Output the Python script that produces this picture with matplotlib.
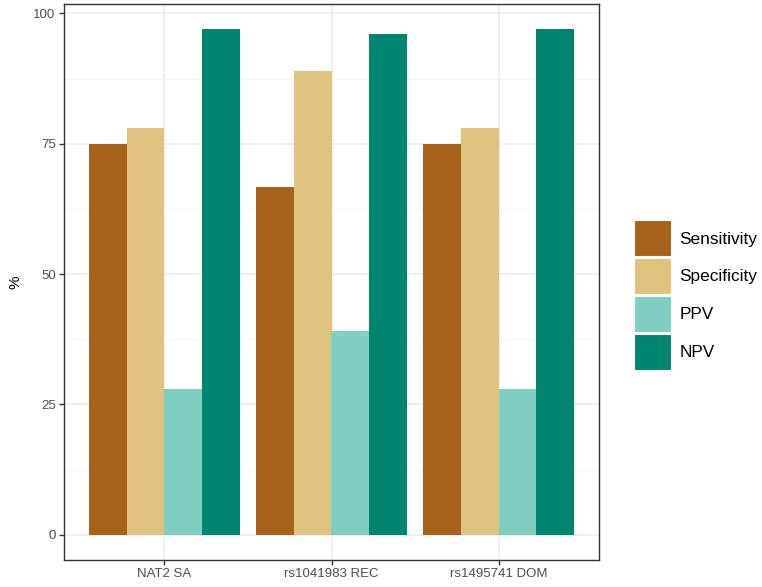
import matplotlib.pyplot as plt
import numpy as np
from matplotlib.patches import Patch

plt.rcParams['font.family'] = ['Liberation Sans', 'DejaVu Sans']

groups = ['NAT2 SA', 'rs1041983 REC', 'rs1495741 DOM']
metrics = ['Sensitivity', 'Specificity', 'PPV', 'NPV']
sensitivity = [75, 66.7, 75]
specificity = [78, 89, 78]
ppv = [28, 39, 28]
npv = [97, 96, 97]
colors = ['#A6611A', '#DFC27D', '#80CDC1', '#018571']

values = [sensitivity, specificity, ppv, npv]

fig = plt.figure(figsize=(7.62, 5.87), dpi=100)
ax = fig.add_axes([64/762, 27/587, 535/762, 556.3/587])

x = np.arange(1, len(groups) + 1)
w = 0.9 / len(metrics)
for i, (vals, c) in enumerate(zip(values, colors)):
    ax.bar(x - 0.45 + w * (i + 0.5), vals, width=w, color=c, linewidth=0, zorder=2)

ax.set_xlim(0.4, 3.6)
ax.set_ylim(-4.85, 101.85)
ax.set_xticks(x)
ax.set_xticklabels(groups)
ax.set_yticks([0, 25, 50, 75, 100])
ax.set_yticks([12.5, 37.5, 62.5, 87.5], minor=True)
ax.grid(which='major', color='#EBEBEB', linewidth=1.1, zorder=0)
ax.grid(which='minor', axis='y', color='#F2F2F2', linewidth=0.6, zorder=0)
ax.set_axisbelow(True)
for s in ax.spines.values():
    s.set_color('#333333')
    s.set_linewidth(1.0)
ax.tick_params(which='major', length=3.5, width=1.0, color='#333333',
               labelcolor='#4D4D4D', labelsize=9.5, pad=2.5)
ax.tick_params(which='minor', length=0)
ax.set_ylabel('%', fontsize=11, color='black', labelpad=8)

handles = [Patch(facecolor=c, edgecolor='white', linewidth=1.5) for c in colors]
fig.legend(handles, metrics, loc='upper left', bbox_to_anchor=(634/762, 1 - 220/587),
           frameon=False, fontsize=12.4, handlelength=2.2, handleheight=2.93,
           labelspacing=0.05, handletextpad=0.45, borderpad=0, borderaxespad=0)

plt.savefig('out.png', dpi=100)
